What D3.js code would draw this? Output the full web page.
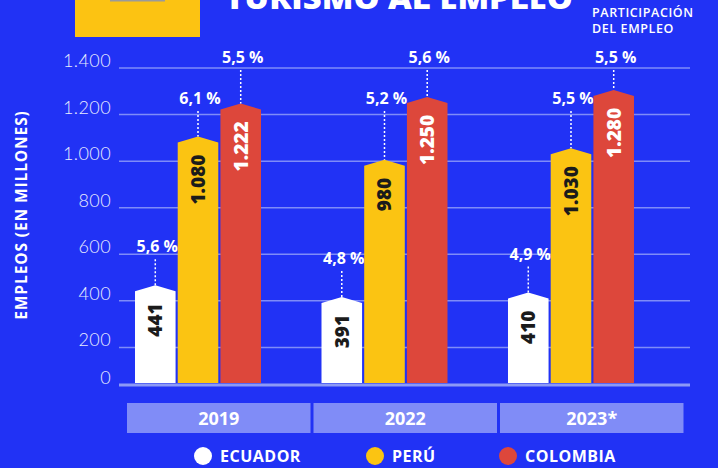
<!DOCTYPE html>
<html>
<head>
<meta charset="utf-8">
<script src="https://cdn.jsdelivr.net/npm/d3@7"></script>
<style>
  html, body { margin: 0; padding: 0; background: #2132f5; }
  svg { display: block; font-family: "Open Sans", sans-serif; }
</style>
</head>
<body>
<div id="main"></div>
<script>

//===============DATA===================
var years = ["2019", "2022", "2023*"],
    countries = ["ECUADOR", "PERÚ", "COLOMBIA"],
    ecuador = [441, 391, 410],
    peru = [1080, 980, 1030],
    colombia = [1222, 1250, 1280],
    ecuadorPct = [5.6, 4.8, 4.9],
    peruPct = [6.1, 5.2, 5.5],
    colombiaPct = [5.5, 5.6, 5.5],
    yTicks = [0, 200, 400, 600, 800, 1000, 1200, 1400];

var colors = ["#ffffff", "#fbc412", "#dd473b"],
    textColors = ["#1b1b1b", "#1b1b1b", "#ffffff"];

//===============SETUP===================
var width = 718, height = 468,
    baseY = 383,
    gridX = [119, 690],
    roof = 6;

var es = d3.formatLocale({decimal: ",", thousands: ".", grouping: [3], currency: ["", ""]}),
    fmtVal = es.format(","),
    fmtPct = es.format(".1f");

var series = [ecuador, peru, colombia],
    pcts = [ecuadorPct, peruPct, colombiaPct];

var rows = [];
years.forEach(function(yr, i){
	countries.forEach(function(c, j){
		rows.push({year: yr, country: c, k: j, value: series[j][i], pct: pcts[j][i]});
	});
});

var svg = d3.select("#main").append("svg")
    .attr("width", width)
    .attr("height", height);

var y = d3.scaleLinear().domain([0, 1400]).range([394, 68]);

var x0 = d3.scaleBand().domain(years).range([127, 683.5]).paddingInner(0.016),
    x1 = d3.scaleBand().domain(countries).range([8, 134]).paddingInner(0.05);

function tickY(d){ return d === 0 ? baseY + 2 : y(d); }

//===============HEADER===================
svg.append("rect").attr("x", 75).attr("y", 0).attr("width", 125).attr("height", 37).attr("fill", "#fcc312");
svg.append("rect").attr("x", 110).attr("y", 0).attr("width", 55).attr("height", 1.5).attr("fill", "#9a9a9a");

// title runs off the top edge, as in the original
svg.append("text")
	.attr("x", 225).attr("y", 9)
	.attr("textLength", 348).attr("lengthAdjust", "spacingAndGlyphs")
	.attr("fill", "#fff").attr("font-size", 30).attr("font-weight", 800)
	.text("TURISMO AL EMPLEO");

svg.append("text").attr("x", 592).attr("y", 17)
	.attr("fill", "#fff").attr("font-size", 12.5).attr("font-weight", 600).attr("letter-spacing", 0.6)
	.text("PARTICIPACIÓN");
svg.append("text").attr("x", 592).attr("y", 32.5)
	.attr("fill", "#fff").attr("font-size", 12.5).attr("font-weight", 600).attr("letter-spacing", 0.6)
	.text("DEL EMPLEO");

//===============GRID + AXIS===================
var grid = svg.append("g").attr("class", "grid");

grid.selectAll("line")
	.data(yTicks.filter(function(d){ return d > 0; }))
	.enter().append("line")
	.attr("x1", gridX[0]).attr("x2", gridX[1])
	.attr("y1", y).attr("y2", y)
	.attr("stroke", "#7f8cf8").attr("stroke-width", 1.5);

grid.append("line")
	.attr("x1", gridX[0]).attr("x2", gridX[1])
	.attr("y1", baseY + 2).attr("y2", baseY + 2)
	.attr("stroke", "#8c99f6").attr("stroke-width", 3);

svg.append("g").selectAll("text")
	.data(yTicks)
	.enter().append("text")
	.attr("x", 111)
	.attr("y", function(d){ return tickY(d) - 1; })
	.attr("text-anchor", "end")
	.attr("fill", "#e9ecff")
	.attr("font-family", "Lato, 'Open Sans', sans-serif")
	.attr("font-weight", 300)
	.attr("font-size", 18)
	.attr("letter-spacing", 0.4)
	.text(function(d){ return fmtVal(d); });

svg.append("text")
	.attr("transform", "translate(27,215) rotate(-90)")
	.attr("text-anchor", "middle")
	.attr("fill", "#fff").attr("font-size", 15.5).attr("font-weight", 700).attr("letter-spacing", 0.9)
	.text("EMPLEOS (EN MILLONES)");

//===============BARS===================
var group = svg.selectAll(".yr")
	.data(years)
	.enter().append("g")
	.attr("class", "yr")
	.attr("transform", function(d){ return "translate(" + x0(d) + ",0)"; });

var bar = group.selectAll(".bar")
	.data(function(d){ return rows.filter(function(r){ return r.year === d; }); })
	.enter().append("g")
	.attr("class", "bar");

bar.append("path")
	.attr("d", function(d){
		var a = x1(d.country), b = a + x1.bandwidth(), c = (a + b) / 2, t = y(d.value);
		return "M" + a + "," + baseY + "L" + a + "," + t + "L" + c + "," + (t - roof) +
			"L" + b + "," + t + "L" + b + "," + baseY + "Z";
	})
	.attr("fill", function(d){ return colors[d.k]; });

bar.append("text")
	.attr("transform", function(d){
		return "translate(" + (x1(d.country) + x1.bandwidth() / 2) + "," + (y(d.value) + 12) + ") rotate(-90)";
	})
	.attr("dy", "0.36em")
	.attr("text-anchor", "end")
	.attr("fill", function(d){ return textColors[d.k]; })
	.attr("font-size", 19).attr("font-weight", 800)
	.text(function(d){ return fmtVal(d.value); });

// percentage labels: red and yellow sit on fixed rows, white floats above its bar
function pctY(d){
	if(d.k === 2) return 63;
	if(d.k === 1) return 104;
	return y(d.value) - roof - 33;
}

bar.append("line")
	.attr("x1", function(d){ return x1(d.country) + x1.bandwidth() / 2; })
	.attr("x2", function(d){ return x1(d.country) + x1.bandwidth() / 2; })
	.attr("y1", function(d){ return pctY(d) + 7; })
	.attr("y2", function(d){ return y(d.value) - roof; })
	.attr("stroke", "#fff").attr("stroke-width", 1.5).attr("stroke-dasharray", "2,2");

bar.append("text")
	.attr("x", function(d){ return x1(d.country) + x1.bandwidth() / 2 + 2; })
	.attr("y", pctY)
	.attr("text-anchor", "middle")
	.attr("fill", "#fff").attr("font-size", 16).attr("font-weight", 700)
	.text(function(d){ return fmtPct(d.pct) + " %"; });

//===============YEAR BOXES===================
group.append("rect")
	.attr("x", 0).attr("y", 403)
	.attr("width", x0.bandwidth()).attr("height", 30)
	.attr("fill", "#808cf7");

group.append("text")
	.attr("x", x0.bandwidth() / 2).attr("y", 425)
	.attr("text-anchor", "middle")
	.attr("fill", "#fff").attr("font-size", 18).attr("font-weight", 700)
	.text(function(d){ return d; });

//===============LEGEND===================
var leg = svg.selectAll(".leg")
	.data(countries)
	.enter().append("g")
	.attr("class", "leg")
	.attr("transform", function(d, i){ return "translate(" + [203, 375, 508][i] + ",456)"; });

leg.append("circle").attr("r", 9).attr("fill", function(d, i){ return colors[i]; });

leg.append("text")
	.attr("x", 17).attr("y", 6)
	.attr("fill", "#fff").attr("font-size", 16).attr("font-weight", 700).attr("letter-spacing", 0.5)
	.text(function(d){ return d; });

</script>
</body>
</html>
